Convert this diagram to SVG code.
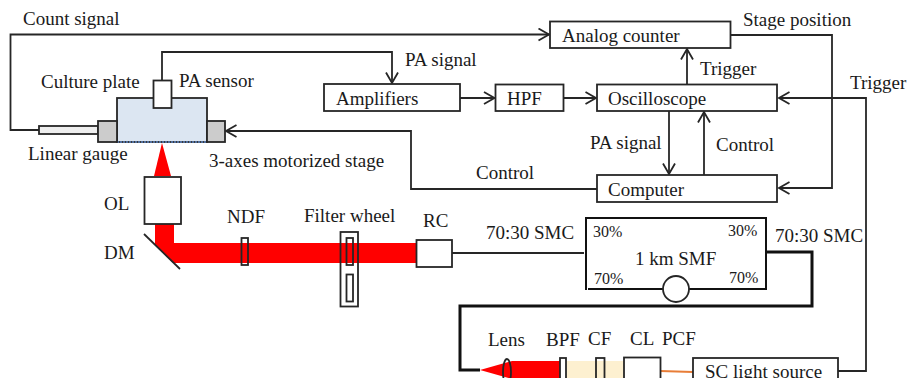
<svg xmlns="http://www.w3.org/2000/svg" width="907" height="378" viewBox="0 0 907 378">
<style>
text{font-family:"Liberation Serif","Times New Roman",serif;font-size:19px;fill:#1a1a1a}
.s{font-size:16px}
rect,ellipse,circle{stroke:#262626;stroke-width:1.8;fill:#fff}
.l{fill:none;stroke:#262626;stroke-width:1.8}
.k{fill:none;stroke:#111;stroke-width:3}
.a{marker-end:url(#ah)}
</style>
<defs><marker id="ah" markerUnits="userSpaceOnUse" markerWidth="14" markerHeight="16" refX="11.5" refY="7" orient="auto"><path d="M1 1 L11.5 7 L1 13" fill="none" stroke="#262626" stroke-width="1.8"/></marker></defs>
<rect width="907" height="378" style="fill:#fff;stroke:none"/>
<g id="beams">
<polygon points="162,143 154,176 171,176" fill="#f00"/>
<polygon points="155,224 174,224 174,243 416,243 416,263 173,263 155,245" fill="#f00"/>
<rect x="567" y="361" width="58" height="18" style="fill:#fdf0d0;stroke:none"/>
<polygon points="480,370 512,361 561,361 561,379 512,379" fill="#f00"/>
<path d="M660 371 L693 372" fill="none" stroke="#e87d37" stroke-width="2"/>
</g>
<g id="connectors">
<path class="l a" d="M39 130 H10.5 V34.500 H549"/>
<path class="l a" d="M162 80 V52 H392 V83"/>
<path class="l a" d="M460 98 H494.500"/>
<path class="l a" d="M563.500 98 H596"/>
<path class="l a" d="M687 84 V49"/>
<path class="l a" d="M669 111 V174"/>
<path class="l a" d="M704 175 V112"/>
<path class="l a" d="M731 35 H832 V188 H779"/>
<path class="l a" d="M838 371 H866 V98 H779"/>
<path class="l a" d="M597 189 H411 V131 H226"/>
<path class="l" d="M452 253 H584"/>
<path class="k" d="M767 252 H812 V306 H460 V370 H480"/>
</g>
<g id="culture-plate"><rect x="117" y="98" width="90" height="44" style="fill:#dce6f2"/><path d="M117 142 H207" stroke="#5b84c4" stroke-width="1.5" stroke-dasharray="2 1" fill="none"/><text x="41" y="88">Culture plate</text></g>
<g id="pa-sensor"><rect x="153.500" y="80.500" width="18" height="27.500"/><text x="179" y="87">PA sensor</text></g>
<g id="linear-gauge"><rect x="39" y="126" width="59" height="8" style="fill:#eee"/><rect x="98" y="121" width="19" height="21" style="fill:#ccc"/><text x="28" y="160">Linear gauge</text></g>
<g id="stage"><rect x="207" y="121" width="18" height="21" style="fill:#ccc"/><text x="209" y="167">3-axes motorized stage</text></g>
<g id="analog-counter"><rect x="550" y="21.500" width="180.500" height="26.500"/><text x="562" y="42">Analog counter</text></g>
<g id="amplifiers"><rect x="324" y="84" width="136" height="27"/><text x="336" y="105">Amplifiers</text></g>
<g id="hpf"><rect x="495.500" y="84.500" width="68" height="26.500"/><text x="507" y="105">HPF</text></g>
<g id="oscilloscope"><rect x="597" y="84.500" width="180" height="26.500"/><text x="608" y="105">Oscilloscope</text></g>
<g id="computer"><rect x="597" y="175" width="180" height="27"/><text x="608" y="196">Computer</text></g>
<g id="ol"><rect x="144.500" y="177" width="36.500" height="47"/><text x="104" y="210">OL</text></g>
<g id="dm"><path class="l" d="M144 234 L180 269"/><text x="104" y="259">DM</text></g>
<g id="ndf"><rect x="241.500" y="238" width="6.500" height="27" style="fill:none"/><text x="227" y="223">NDF</text></g>
<g id="filter-wheel"><rect x="340.500" y="232" width="17.500" height="74.500" style="fill:none"/><rect x="346.500" y="238" width="6.500" height="27" style="fill:none"/><rect x="346.500" y="274.500" width="6.500" height="27"/><text x="304" y="222">Filter wheel</text></g>
<g id="rc"><rect x="416.500" y="240" width="35.500" height="27"/><text x="423" y="227">RC</text></g>
<g id="smf"><path d="M586 290 V218 H766 V290 M588 289 H767" fill="none" stroke="#111" stroke-width="2"/><circle cx="676" cy="289" r="13"/><text x="635" y="265">1 km SMF</text><text class="s" x="593" y="237">30%</text><text class="s" x="728" y="236">30%</text><text class="s" x="594" y="284">70%</text><text class="s" x="729" y="283">70%</text></g>
<g id="lens"><ellipse cx="507" cy="372" rx="4" ry="13" style="fill:none"/><text x="488" y="346">Lens</text></g>
<g id="bpf"><rect x="560" y="358" width="6" height="24"/><text x="546" y="346">BPF</text></g>
<g id="cf"><rect x="596" y="358" width="8.500" height="24" style="fill:none"/><text x="588" y="345">CF</text></g>
<g id="cl"><rect x="624" y="357.500" width="36.500" height="26"/><text x="630" y="345">CL</text></g>
<g id="sc-source"><rect x="693" y="358" width="145" height="26"/><text x="705" y="378">SC light source</text><text x="662" y="345">PCF</text></g>
<g id="labels">
<text x="23" y="25">Count signal</text>
<text x="405" y="66">PA signal</text>
<text x="700" y="75">Trigger</text>
<text x="743" y="26">Stage position</text>
<text x="850" y="89">Trigger</text>
<text x="590" y="149">PA signal</text>
<text x="716" y="151">Control</text>
<text x="476" y="179">Control</text>
<text x="486" y="239">70:30 SMC</text>
<text x="775" y="242">70:30 SMC</text>
</g>
</svg>
